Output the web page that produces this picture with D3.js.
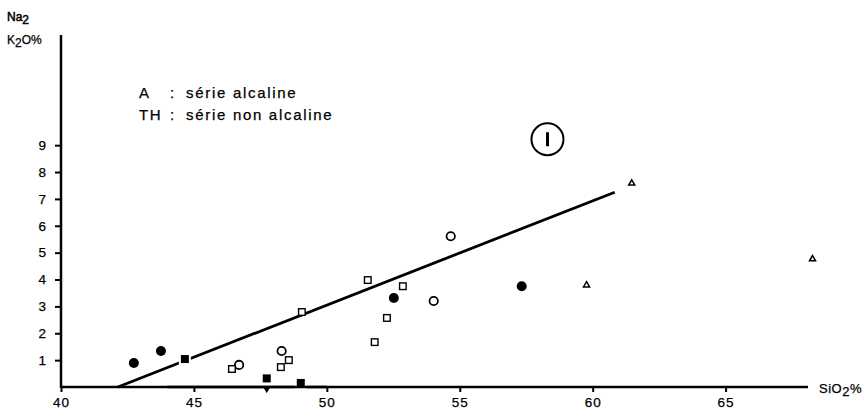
<!DOCTYPE html>
<html><head><meta charset="utf-8">
<script src="https://cdn.jsdelivr.net/npm/d3@7"></script>
<style>
html,body{margin:0;padding:0;background:#fff;}
svg{display:block;font-family:"Liberation Sans",Arial,Helvetica,sans-serif;}
svg text{stroke:#000;stroke-width:0.25px;}
</style></head>
<body>
<svg id="c" width="868" height="412"></svg>
<script>
// ---- data ----
const xTicks = [40, 45, 50, 55, 60, 65];
const yTicks = [1, 2, 3, 4, 5, 6, 7, 8, 9];
const filledCircleX = [42.74, 43.76, 52.52, 57.33];
const filledCircleY = [0.89, 1.34, 3.31, 3.75];
const openCircleX = [46.7, 48.3, 54.02, 54.66];
const openCircleY = [0.82, 1.34, 3.2, 5.61];
const openSquareX = [46.43, 48.27, 48.57, 49.06, 51.54, 51.8, 52.26, 52.86];
const openSquareY = [0.67, 0.74, 1.0, 2.79, 3.98, 1.67, 2.57, 3.75];
const filledSquareX = [44.66, 47.74, 49.02];
const filledSquareY = [1.04, 0.32, 0.15];
const filledTriDownX = [47.74];
const filledTriDownY = [-0.08];
const triangleX = [59.77, 61.47, 68.27];
const triangleY = [3.79, 7.58, 4.76];
const lineX = [42.14, 60.83];
const lineY = [0, 7.25];
const legendKeys = ["A", "TH"];
const legendTexts = ["série alcaline", "série non alcaline"];
const fieldLabel = "I";
const fieldX = 58.3, fieldY = 9.22;

// ---- scales ----
const svg = d3.select("#c");
const x = d3.scaleLinear().domain([40, 68.1]).range([61, 808]);
const y = d3.scaleLinear().domain([0, 13.1]).range([387, 35]);

// axes
const gx = svg.append("g").attr("transform", `translate(0,${y(0)})`)
  .call(d3.axisBottom(x).tickValues(xTicks).tickSize(5).tickPadding(5).tickFormat(d3.format("d")));
const gy = svg.append("g").attr("transform", `translate(${x(40)},0)`)
  .call(d3.axisLeft(y).tickValues(yTicks).tickSize(6).tickPadding(9).tickFormat(d3.format("d")));
[gx, gy].forEach(g => {
  g.select(".domain").remove();
  g.selectAll(".tick line").attr("stroke", "#000").attr("stroke-width", 2);
  g.selectAll(".tick text").attr("fill", "#000").style("font-size", "13.5px")
    .style("font-family", '"Liberation Sans",Arial,sans-serif');
});
gx.selectAll(".tick text").attr("letter-spacing", "1px");
// axis lines
svg.append("line").attr("x1", x(40)).attr("x2", x(68.1)).attr("y1", y(0)).attr("y2", y(0))
  .attr("stroke", "#000").attr("stroke-width", 2.5);
svg.append("line").attr("x1", x(40)).attr("x2", x(40)).attr("y1", y(0) + 1).attr("y2", y(13.1))
  .attr("stroke", "#000").attr("stroke-width", 2.5);

// axis titles
const yt1 = svg.append("text").attr("x", 7).attr("y", 21).style("font-size", "12px").style("stroke-width", "0.5px");
yt1.append("tspan").text("Na");
yt1.append("tspan").attr("dy", 3).text("2");
const yt2 = svg.append("text").attr("x", 7).attr("y", 44).style("font-size", "12px");
yt2.append("tspan").text("K");
yt2.append("tspan").attr("dy", 3).text("2");
yt2.append("tspan").attr("dy", -3).text("O%");
const xt = svg.append("text").attr("x", 819).attr("y", 393).style("font-size", "13px").attr("letter-spacing", "0.5px");
xt.append("tspan").text("SiO");
xt.append("tspan").attr("dy", 3).text("2");
xt.append("tspan").attr("dy", -3).text("%");

// legend
const lg = svg.append("g");
legendKeys.forEach((k, i) => {
  const yy = 98 + i * 22;
  lg.append("text").attr("x", 139).attr("y", yy).style("font-size", "15px").attr("letter-spacing", "1.5px").text(k);
  lg.append("text").attr("x", 170).attr("y", yy).style("font-size", "15px").text(":");
  lg.append("text").attr("x", 186).attr("y", yy).style("font-size", "15px").attr("letter-spacing", "1.7px").text(legendTexts[i]);
});

// field label
svg.append("circle").attr("cx", x(fieldX)).attr("cy", y(fieldY)).attr("r", 16)
  .attr("fill", "none").attr("stroke", "#000").attr("stroke-width", 2);
svg.append("line").attr("x1", x(fieldX)).attr("x2", x(fieldX)).attr("y1", y(fieldY) - 7).attr("y2", y(fieldY) + 7)
  .attr("stroke", "#000").attr("stroke-width", 3);

// boundary line
svg.append("line").attr("x1", x(lineX[0])).attr("y1", y(lineY[0])).attr("x2", x(lineX[1])).attr("y2", y(lineY[1]))
  .attr("stroke", "#000").attr("stroke-width", 2.8);

// markers
const zip = (xs, ys) => xs.map((v, i) => [v, ys[i]]);
const m = svg.append("g");
m.selectAll(".fc").data(zip(filledCircleX, filledCircleY)).join("circle")
  .attr("cx", d => x(d[0])).attr("cy", d => y(d[1])).attr("r", 5)
  .attr("fill", "#000").attr("stroke", "#fff").attr("stroke-width", 2).attr("paint-order", "stroke");
m.selectAll(".oc").data(zip(openCircleX, openCircleY)).join("circle")
  .attr("cx", d => x(d[0])).attr("cy", d => y(d[1])).attr("r", 4.2)
  .attr("fill", "#fff").attr("stroke", "#000").attr("stroke-width", 1.8);
m.selectAll(".os").data(zip(openSquareX, openSquareY)).join("rect")
  .attr("x", d => x(d[0]) - 3.3).attr("y", d => y(d[1]) - 3.3).attr("width", 6.6).attr("height", 6.6)
  .attr("fill", "#fff").attr("stroke", "#000").attr("stroke-width", 1.4);
m.selectAll(".fsh").data(zip(filledSquareX, filledSquareY)).join("rect")
  .attr("x", d => x(d[0]) - 6).attr("y", d => y(d[1]) - 6).attr("width", 12).attr("height", 12)
  .attr("fill", "#fff").attr("stroke", "none");
svg.append("line").attr("x1", x(44)).attr("x2", x(50)).attr("y1", y(0)).attr("y2", y(0))
  .attr("stroke", "#000").attr("stroke-width", 2.5);
m.selectAll(".fs").data(zip(filledSquareX, filledSquareY)).join("rect")
  .attr("x", d => x(d[0]) - 4).attr("y", d => y(d[1]) - 4).attr("width", 8).attr("height", 8)
  .attr("fill", "#000");
m.selectAll(".ftd").data(zip(filledTriDownX, filledTriDownY)).join("path")
  .attr("transform", d => `translate(${x(d[0])},${y(d[1])}) rotate(180)`)
  .attr("d", d3.symbol(d3.symbolTriangle, 22)).attr("fill", "#000");
m.selectAll(".tr").data(zip(triangleX, triangleY)).join("path")
  .attr("transform", d => `translate(${x(d[0])},${y(d[1])})`)
  .attr("d", d3.symbol(d3.symbolTriangle, 16)).attr("fill", "#fff").attr("stroke", "#000").attr("stroke-width", 1.5);
</script>
</body></html>
